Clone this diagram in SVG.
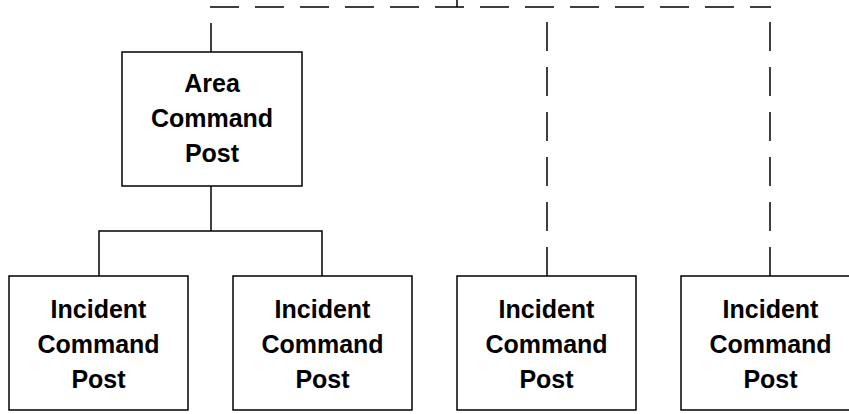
<svg xmlns="http://www.w3.org/2000/svg" width="849" height="414" viewBox="0 0 849 414">
<style>
.box{fill:#fff;stroke:#000;stroke-width:1.5}
.ln{fill:none;stroke:#000;stroke-width:1.5}
.dash{fill:none;stroke:#000;stroke-width:1.5;stroke-dasharray:29 16}
.t{font-family:"Liberation Sans",Arial,sans-serif;font-weight:bold;font-size:25px;fill:#000;text-anchor:middle}
</style>
<rect width="849" height="414" fill="#fff"/>
<g id="connectors">
<path class="ln" d="M457,0 V7"/>
<path class="dash" d="M210,7 H771"/>
<path class="dash" d="M211,52 V7"/>
<path class="dash" d="M547,276 V7"/>
<path class="dash" d="M770,276 V7"/>
<path class="ln" d="M211,186 V231 M99,276 V231 H322 V276"/>
</g>
<g id="area">
<rect class="box" x="122" y="52" width="180" height="134"/>
<text class="t" x="212" y="92">Area</text>
<text class="t" x="212" y="127">Command</text>
<text class="t" x="212" y="162">Post</text>
</g>
<g id="icp1">
<rect class="box" x="9" y="276" width="179" height="134"/>
<text class="t" x="98.5" y="318">Incident</text>
<text class="t" x="98.5" y="353">Command</text>
<text class="t" x="98.5" y="388">Post</text>
</g>
<g id="icp2">
<rect class="box" x="233" y="276" width="179" height="134"/>
<text class="t" x="322.5" y="318">Incident</text>
<text class="t" x="322.5" y="353">Command</text>
<text class="t" x="322.5" y="388">Post</text>
</g>
<g id="icp3">
<rect class="box" x="457" y="276" width="179" height="134"/>
<text class="t" x="546.5" y="318">Incident</text>
<text class="t" x="546.5" y="353">Command</text>
<text class="t" x="546.5" y="388">Post</text>
</g>
<g id="icp4">
<rect class="box" x="681" y="276" width="179" height="134"/>
<text class="t" x="770.5" y="318">Incident</text>
<text class="t" x="770.5" y="353">Command</text>
<text class="t" x="770.5" y="388">Post</text>
</g>
</svg>
